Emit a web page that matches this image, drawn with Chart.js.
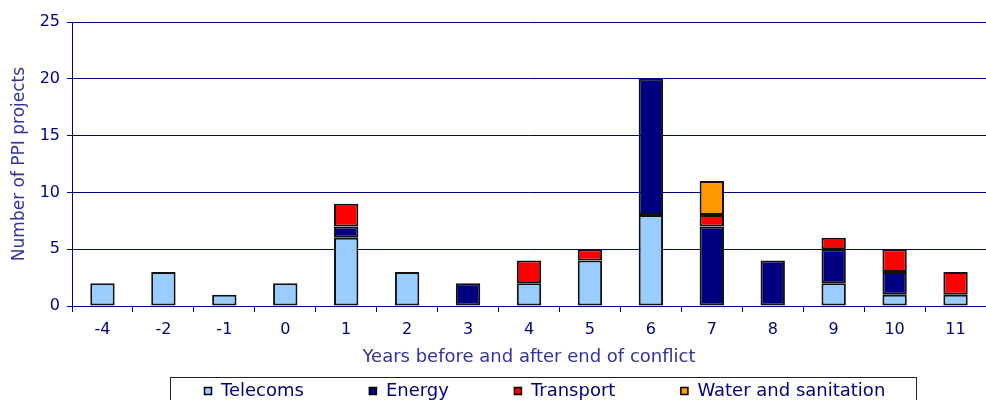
<!DOCTYPE html>
<html>
<head>
<meta charset="utf-8">
<script src="https://cdn.jsdelivr.net/npm/chart.js@4/dist/chart.umd.min.js"></script>
<style>
  html, body { margin: 0; padding: 0; background: #fff; }
  canvas { display: block; }
</style>
</head>
<body>
<canvas id="chart" width="986" height="400"></canvas>
<script>
// Years relative to the end of conflict
const years = ['-4', '-2', '-1', '0', '1', '2', '3', '4', '5', '6', '7', '8', '9', '10', '11'];

// Number of PPI projects per sector
const telecoms  = [2, 3, 1, 2, 6, 3, 0, 2, 4, 8, 0, 0, 2, 1, 1];
const energy    = [0, 0, 0, 0, 1, 0, 2, 0, 0, 12, 7, 4, 3, 2, 0];
const transport = [0, 0, 0, 0, 2, 0, 0, 2, 1, 0, 1, 0, 1, 2, 2];
const water     = [0, 0, 0, 0, 0, 0, 0, 0, 0, 0, 3, 0, 0, 0, 0];

const yMin = 0, yMax = 25, yStep = 5;

const NAVY = '#000080';
const TITLE_NAVY = '#333399';
const FONT = '"DejaVu Sans", Verdana, sans-serif';

// empty segments are left out so they draw no outline
const seg = arr => arr.map(v => (v === 0 ? null : v));

const sectorSeries = [
  { label: 'Telecoms', values: telecoms, color: '#99ccff' },
  { label: 'Energy', values: energy, color: '#000080' },
  { label: 'Transport', values: transport, color: '#ff0000' },
  { label: 'Water and sanitation', values: water, color: '#ff9900' }
];

// Framed legend row along the bottom edge
const boxedLegend = {
  id: 'boxedLegend',
  afterDraw(chart) {
    const ctx = chart.ctx;
    ctx.save();
    ctx.font = '18px ' + FONT;
    const items = chart.data.datasets.map(ds => ({
      label: ds.label,
      color: ds.backgroundColor,
      w: ctx.measureText(ds.label).width
    }));
    const box = 8, gapText = 9, gapItem = 65;
    const total = items.reduce((s, it) => s + box + gapText + it.w, 0) + gapItem * (items.length - 1);
    const cx = 545, cy = 391;
    let x = Math.round(cx - total / 2);

    ctx.strokeStyle = '#222';
    ctx.lineWidth = 1;
    ctx.strokeRect(x - 34 + 0.5, 377.5, Math.round(total) + 65, 40);

    ctx.textBaseline = 'middle';
    ctx.textAlign = 'left';
    items.forEach(it => {
      const by = Math.round(cy - box / 2);
      ctx.fillStyle = it.color;
      ctx.fillRect(x, by, box, box);
      ctx.strokeStyle = '#000';
      ctx.lineWidth = 1.5;
      ctx.strokeRect(x + 0.5, by + 0.5, box - 1, box - 1);
      ctx.fillStyle = NAVY;
      ctx.fillText(it.label, x + box + gapText, cy);
      x += box + gapText + it.w + gapItem;
    });
    ctx.restore();
  }
};

new Chart(document.getElementById('chart'), {
  type: 'bar',
  data: {
    labels: years,
    datasets: sectorSeries.map(s => ({
      label: s.label,
      data: seg(s.values),
      backgroundColor: s.color,
      borderColor: '#111',
      borderWidth: 2,
      borderSkipped: false,
      barPercentage: 0.4,
      categoryPercentage: 1.0
    }))
  },
  options: {
    responsive: false,
    animation: false,
    layout: { padding: { top: 22, left: 0, right: 0, bottom: 32 } },
    plugins: {
      legend: { display: false },
      tooltip: { enabled: false }
    },
    scales: {
      x: {
        stacked: true,
        grid: {
          display: true,
          drawOnChartArea: false,
          drawTicks: true,
          offset: true,
          tickLength: 6,
          color: NAVY,
          lineWidth: 1
        },
        border: { display: true, color: NAVY, width: 1 },
        ticks: {
          color: NAVY,
          font: { family: FONT, size: 16 },
          padding: 8,
          maxRotation: 0,
          autoSkip: false
        },
        title: {
          display: true,
          text: 'Years before and after end of conflict',
          color: TITLE_NAVY,
          font: { family: FONT, size: 18 },
          padding: { top: 0, bottom: 0 }
        },
        afterFit(scale) { scale.height = 62; }
      },
      y: {
        stacked: true,
        min: yMin,
        max: yMax,
        grid: {
          color: NAVY,
          lineWidth: 1,
          tickLength: 5,
          drawTicks: true
        },
        border: { display: true, color: NAVY, width: 1 },
        ticks: {
          stepSize: yStep,
          color: NAVY,
          font: { family: FONT, size: 16 },
          padding: 7
        },
        title: {
          display: true,
          text: 'Number of PPI projects',
          color: TITLE_NAVY,
          font: { family: FONT, size: 17 },
          padding: { top: 9, bottom: 0 }
        },
        afterFit(scale) { scale.width = 72; }
      }
    }
  },
  plugins: [boxedLegend]
});
</script>
</body>
</html>
